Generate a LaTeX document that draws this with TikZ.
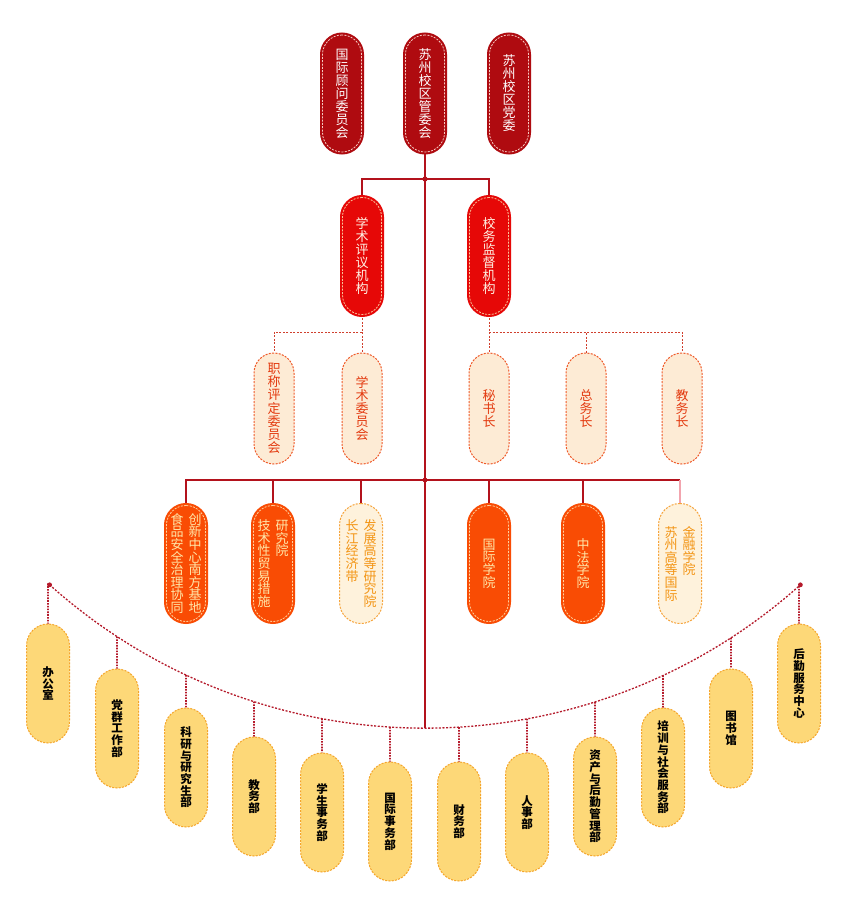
\documentclass[tikz,border=0pt]{standalone}
\usepackage{fontspec}
\newfontfamily\cjk{Noto Sans CJK SC}
\usetikzlibrary{calc}
\pgfdeclarelayer{bg}
\pgfsetlayers{bg,main}
\definecolor{cTop}{HTML}{AF0B10}
\definecolor{cTopD}{HTML}{F6C8C0}
\definecolor{cSec}{HTML}{E60807}
\definecolor{cSecD}{HTML}{FBC29A}
\definecolor{cSecT}{HTML}{FFF2E4}
\definecolor{cLine}{HTML}{B3121C}
\definecolor{cPink}{HTML}{F2A4AE}
\definecolor{cDash}{HTML}{D0402E}
\definecolor{cPeach}{HTML}{FDEBD5}
\definecolor{cPeachB}{HTML}{EF5A2A}
\definecolor{cPeachT}{HTML}{E33A10}
\definecolor{cOr}{HTML}{F94C04}
\definecolor{cOrD}{HTML}{FFD2A0}
\definecolor{cOrT}{HTML}{FFE6A8}
\definecolor{cCream}{HTML}{FEF2DC}
\definecolor{cCreamB}{HTML}{F6A43C}
\definecolor{cCreamT}{HTML}{F39515}
\definecolor{cYel}{HTML}{FDD878}
\definecolor{cYelB}{HTML}{F5A52A}
\definecolor{cArc}{HTML}{B51A2B}
\def\vtend{}
\newcommand\vt[1]{\vtop{\lineskiplimit=-50pt\lineskip=0pt\vtA#1\vtend}}
\def\vtA#1{\ifx#1\vtend\else\hbox{#1}\expandafter\vtA\fi}
\tikzset{
  pillbase/.style={rectangle, inner sep=0pt, line width=0.8pt, dash pattern=on 2pt off 1.3pt},
  topP/.style={pillbase, rounded corners=19.5pt, minimum width=39pt, minimum height=117pt,
    fill=cTop, draw=cTopD, preaction={draw=cTop, solid, line width=5pt}, text=white,
    font=\cjk\fontsize{13}{13}\selectfont},
  secP/.style={pillbase, rounded corners=19.5pt, minimum width=39pt, minimum height=117pt,
    fill=cSec, draw=cSecD, preaction={draw=cSec, solid, line width=5pt}, text=cSecT,
    font=\cjk\fontsize{13}{13}\selectfont},
  peachP/.style={pillbase, rounded corners=20pt, minimum width=40pt, minimum height=111pt,
    fill=cPeach, draw=cPeachB, line width=1pt, text=cPeachT,
    font=\cjk\fontsize{13}{13.2}\selectfont},
  orP/.style={pillbase, rounded corners=19.5pt, minimum width=39pt, minimum height=116pt,
    fill=cOr, draw=cOrD, preaction={draw=cOr, solid, line width=5pt}, text=cOrT,
    font=\cjk\fontsize{13}{12.6}\selectfont},
  creamP/.style={pillbase, rounded corners=21.5pt, minimum width=43pt, minimum height=120pt,
    fill=cCream, draw=cCreamB, line width=1pt, text=cCreamT,
    font=\cjk\fontsize{13}{12.6}\selectfont},
  yelP/.style={pillbase, rounded corners=21.5pt, minimum width=43pt, minimum height=119pt,
    fill=cYel, draw=cYelB, line width=1pt, text=black,
    font=\cjk\bfseries\fontsize{11.5}{11.7}\selectfont},
  mainline/.style={draw=cLine, line width=1.8pt},
  dline/.style={draw=cDash, line width=0.9pt, dash pattern=on 2pt off 1.5pt},
  arcline/.style={draw=cArc, line width=1.3pt, dash pattern=on 2pt off 1.6pt},
  stubline/.style={draw=cArc, line width=1.6pt, dash pattern=on 1.6pt off 1.2pt},
}
\begin{document}
\begin{tikzpicture}[x=1pt,y=1pt]
\useasboundingbox (0,0) rectangle (842,-900);
% top row
\node[topP] (n1) at (342,-93.5) {\vt{国际顾问委员会}};
\node[topP] (n2) at (425,-93.5) {\vt{苏州校区管委会}};
\node[topP] (n3) at (509,-93.5) {\vt{苏州校区党委}};
% second row
\node[secP] (m1) at (362,-256) {\vt{学术评议机构}};
\node[secP] (m2) at (489,-256) {\vt{校务监督机构}};
% third row
\node[peachP] (p1) at (274,-408.5) {\vt{职称评定委员会}};
\node[peachP] (p2) at (362,-408.5) {\vt{学术委员会}};
\node[peachP] (p3) at (489,-408.5) {\vt{秘书长}};
\node[peachP] (p4) at (586,-408.5) {\vt{总务长}};
\node[peachP] (p5) at (682,-408.5) {\vt{教务长}};
% fourth row
\node[orP] (q1) at (186,-563.5) {\vt{食品安全治理协同}\hspace{5pt}\vt{创新中心南方基地}};
\node[orP] (q2) at (273,-563.5) {\vt{技术性贸易措施}\hspace{5pt}\vt{研究院}};
\node[creamP] (q3) at (361,-563.5) {\vt{长江经济带}\hspace{5pt}\vt{发展高等研究院}};
\node[orP] (q4) at (489,-563.5) {\vt{国际学院}};
\node[orP] (q5) at (583,-563.5) {\vt{中法学院}};
\node[creamP] (q6) at (680,-563.5) {\vt{苏州高等国际}\hspace{5pt}\vt{金融学院}};
% bottom row
\node[yelP] (b1) at (48,-683.5) {\vt{办公室}};
\node[yelP] (b2) at (117,-728.5) {\vt{党群工作部}};
\node[yelP] (b3) at (186,-767.5) {\vt{科研与研究生部}};
\node[yelP] (b4) at (254,-796.5) {\vt{教务部}};
\node[yelP] (b5) at (322,-812.5) {\vt{学生事务部}};
\node[yelP] (b6) at (390,-821.5) {\vt{国际事务部}};
\node[yelP] (b7) at (459,-821.5) {\vt{财务部}};
\node[yelP] (b8) at (527,-812.5) {\vt{人事部}};
\node[yelP] (b9) at (595,-796.5) {\vt{资产与后勤管理部}};
\node[yelP] (b10) at (663,-767.5) {\vt{培训与社会服务部}};
\node[yelP] (b11) at (731,-728.5) {\vt{图书馆}};
\node[yelP] (b12) at (799,-683.5) {\vt{后勤服务中心}};
% coordinates
\coordinate (j1) at (425,-179);
\coordinate (j2) at (362,-332);
\coordinate (j3) at (489,-332);
\coordinate (j4) at (425,-480);
\coordinate (ac) at (425,-165);
\path (ac) ++(228.2:563.2) coordinate (aL);
\path (ac) ++(311.8:563.2) coordinate (aR);
\path (ac) ++(270:563.2) coordinate (aB);
\begin{pgfonlayer}{bg}
\fill[white] (0,0) rectangle (842,-900);
\draw[mainline] (n2.south) -- (aB);
\draw[mainline] (m1.north) |- (j1) -| (m2.north);
\draw[dline] (m1.south) -- (j2) -| (p1.north);
\draw[dline] (j2) -- (p2.north);
\draw[dline] (m2.south) -- (j3) -| (p5.north);
\draw[dline] (j3) -| (p4.north);
\draw[dline] (j3) -- (p3.north);
\foreach \q in {q1,q2,q3,q4,q5} {\draw[mainline] (j4) -| (\q.north);}
\draw[mainline] (j4) -- (q6.north |- j4);
\draw[mainline, draw=cPink] (q6.north |- j4) -- (q6.north);
\draw[arcline] (aL) arc[start angle=228.2, end angle=311.8, radius=563.2];
\foreach \i/\x in {1/48,2/117,3/186,4/254,5/322,6/390,7/459,8/527,9/595,10/663,11/731,12/799} {
  \path (ac) ++({270+asin((\x-425)/563.2)}:563.2) coordinate (s\i);
  \draw[stubline] (s\i) -- (b\i.north);
}
\end{pgfonlayer}
\fill[cLine] (j1) circle (2.6);
\fill[cLine] (j4) circle (2.4);
\fill[cArc] (aL) circle (2.4);
\fill[cArc] (aR) circle (2.4);
\end{tikzpicture}
\end{document}
